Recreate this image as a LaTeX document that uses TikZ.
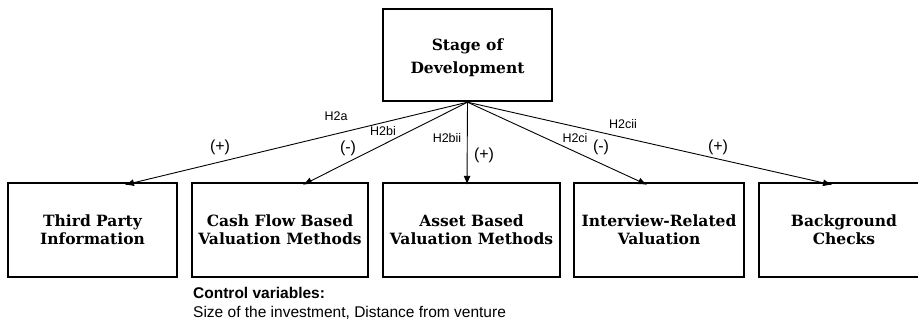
\documentclass[tikz,border=0pt]{standalone}
\usepackage{fontspec}
\setmainfont{Liberation Sans}
\newfontfamily\boxfont{DejaVu Serif}
\usetikzlibrary{arrows.meta}

\tikzset{
  concept/.style={draw=black, line width=2.4pt, minimum height=94pt, align=center,
    inner sep=0pt, font=\boxfont\bfseries\fontsize{15.5}{18.3}\selectfont},
  link/.style={line width=0.9pt, -{Latex[length=9pt,width=7pt]}},
  hyp/.style={font=\fontsize{12.5}{14}\selectfont, inner sep=0pt},
  sign/.style={font=\fontsize{16}{18}\selectfont, inner sep=0pt},
  note/.style={anchor=base west, inner sep=0pt, font=\fontsize{15.5}{18}\selectfont}
}

\begin{document}
\begin{tikzpicture}[x=1pt, y=-1pt]
  \useasboundingbox (0,0) rectangle (918,321);
  \begin{scope}
    \clip (0,0) rectangle (918,321);

    % independent construct
    \node[draw=black, line width=2.4pt, minimum width=169pt, minimum height=92pt]
      (stage) at (467.5,55) {};
    \node[align=center, inner sep=0pt,
          font=\boxfont\bfseries\fontsize{15.5}{23.3}\selectfont]
      (stagetxt) at (467.5,58) {Stage of\\Development};
    \coordinate (apex) at (stage.south);

    % outcome constructs
    \node[concept, minimum width=169pt] (tp)  at (92.5,230)  {Third Party\\Information};
    \node[concept, minimum width=176pt] (cf)  at (280,230)   {Cash Flow Based\\Valuation Methods};
    \node[concept, minimum width=177pt] (ab)  at (471.5,230) {Asset Based\\Valuation Methods};
    \node[concept, minimum width=170pt] (iv)  at (659,230)   {Interview-Related\\Valuation};
    \node[concept, minimum width=170pt] (bg)  at (844,230)   {Background\\Checks};

    % hypothesised effects
    \draw[link] (apex) -- ([xshift=32.5pt,yshift=-3pt]tp.north);
    \draw[link] (apex) -- ([xshift=23pt,yshift=-3pt]cf.north);
    \draw[link] (apex) -- ([xshift=-4.5pt,yshift=-3pt]ab.north);
    \draw[link] (apex) -- ([xshift=-12pt,yshift=-3pt]iv.north);
    \draw[link] (apex) -- ([xshift=-12pt,yshift=-3pt]bg.north);

    % hypothesis labels and expected signs
    \node[hyp]  (h2a)   at (336,116) {H2a};
    \node[sign] (s2a)   at (220,147) {(+)};
    \node[hyp]  (h2bi)  at (383,131) {H2bi};
    \node[sign] (s2bi)  at (348,148) {(-)};
    \node[hyp]  (h2bii) at (447,138) {H2bii};
    \node[sign] (s2bii) at (484,155) {(+)};
    \node[hyp]  (h2ci)  at (575,138) {H2ci};
    \node[sign] (s2ci)  at (601,147) {(-)};
    \node[hyp]  (h2cii) at (623,124) {H2cii};
    \node[sign] (s2cii) at (718,147) {(+)};

    % control variables
    \node[note, font=\bfseries\fontsize{15.5}{18}\selectfont] (ctl) at (193,298.5) {Control variables:};
    \node[note] (ctlv) at (193,317.5) {Size of the investment, Distance from venture};
  \end{scope}
\end{tikzpicture}
\end{document}
